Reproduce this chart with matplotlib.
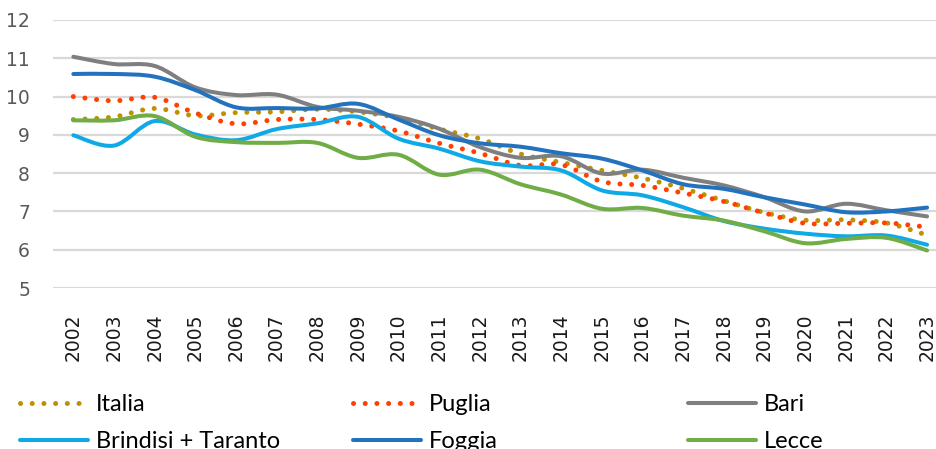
import matplotlib
matplotlib.use("Agg")
import matplotlib.pyplot as plt
from matplotlib.path import Path
from matplotlib.patches import PathPatch
from matplotlib.lines import Line2D

years = list(range(2002, 2024))

italia = [9.40, 9.47, 9.69, 9.50, 9.58, 9.60, 9.67, 9.60, 9.44, 9.15, 8.90,
          8.50, 8.28, 8.07, 7.87, 7.60, 7.28, 6.97, 6.77, 6.78, 6.70, 6.38]
puglia = [10.00, 9.89, 9.98, 9.57, 9.29, 9.40, 9.40, 9.28, 9.10, 8.78, 8.52,
          8.20, 8.22, 7.78, 7.68, 7.48, 7.26, 6.96, 6.69, 6.69, 6.70, 6.59]
bari = [11.04, 10.85, 10.80, 10.24, 10.04, 10.05, 9.73, 9.63, 9.47, 9.16, 8.68,
        8.40, 8.44, 7.99, 8.09, 7.88, 7.68, 7.37, 7.00, 7.20, 7.03, 6.87]
brindisi_taranto = [8.99, 8.72, 9.36, 9.01, 8.86, 9.15, 9.30, 9.47, 8.90, 8.64, 8.31,
                    8.17, 8.07, 7.55, 7.42, 7.11, 6.75, 6.55, 6.42, 6.35, 6.37, 6.13]
foggia = [10.59, 10.59, 10.52, 10.17, 9.72, 9.70, 9.69, 9.81, 9.40, 8.99, 8.78,
          8.69, 8.52, 8.38, 8.07, 7.71, 7.59, 7.37, 7.18, 6.98, 7.00, 7.10]
lecce = [9.38, 9.38, 9.49, 8.95, 8.81, 8.79, 8.79, 8.40, 8.48, 7.96, 8.09,
         7.71, 7.44, 7.07, 7.09, 6.89, 6.76, 6.48, 6.17, 6.28, 6.31, 5.98]

series = [
    ("Italia", italia, "#BF9000", "dot"),
    ("Puglia", puglia, "#FF4000", "dot"),
    ("Bari", bari, "#7F7F7F", "solid"),
    ("Brindisi + Taranto", brindisi_taranto, "#0FA9E6", "solid"),
    ("Foggia", foggia, "#2272BE", "solid"),
    ("Lecce", lecce, "#70AD47", "solid"),
]

DOTS = (0, (0.01, 2.33))


def smooth_path(xs, ys):
    # bezier segments like excel's "smoothed line"
    n = len(xs)
    verts = [(xs[0], ys[0])]
    codes = [Path.MOVETO]
    for i in range(n - 1):
        x0, y0 = xs[max(i - 1, 0)], ys[max(i - 1, 0)]
        x1, y1 = xs[i], ys[i]
        x2, y2 = xs[i + 1], ys[i + 1]
        x3, y3 = xs[min(i + 2, n - 1)], ys[min(i + 2, n - 1)]
        c1 = (x1 + (x2 - x0) / 6, y1 + (y2 - y0) / 6)
        c2 = (x2 - (x3 - x1) / 6, y2 - (y3 - y1) / 6)
        verts += [c1, c2, (x2, y2)]
        codes += [Path.CURVE4] * 3
    return Path(verts, codes)


W, H = 937, 449
fig = plt.figure(figsize=(W / 100, H / 100), dpi=100)
ax = fig.add_axes([53 / W, 161 / H, (W - 53) / W, 268 / H])

xpos = list(range(len(years)))
for name, vals, color, style in series:
    if style == "dot":
        patch = PathPatch(smooth_path(xpos, vals), fill=False, edgecolor=color,
                          linewidth=3.6, linestyle=DOTS, capstyle="round")
    else:
        patch = PathPatch(smooth_path(xpos, vals), fill=False, edgecolor=color,
                          linewidth=2.9, capstyle="round", joinstyle="round")
    ax.add_patch(patch)

ax.set_xlim(-0.5, (W - 73) / 40.67)
ax.set_ylim(5, 12)
ax.set_yticks(range(5, 13))
ax.set_xticks(xpos)
ax.set_xticklabels([str(y) for y in years], rotation=90, fontsize=13.5,
                   family="DejaVu Sans", color="#1a1a1a")
ax.tick_params(axis="x", length=0, pad=18.5)
ax.tick_params(axis="y", length=0, pad=16.5, labelsize=13.5, labelcolor="#595959")
for lab in ax.get_yticklabels():
    lab.set_family("DejaVu Sans")
ax.grid(axis="y", color="#D9D9D9", linewidth=1.6)
ax.set_axisbelow(True)
for s in ax.spines.values():
    s.set_visible(False)

# legend: three columns, two rows
cols = [(20, [0, 3]), (353, [1, 4]), (688, [2, 5])]
for x0, idx in cols:
    handles = []
    labels = []
    for i in idx:
        name, vals, color, style = series[i]
        if style == "dot":
            h = Line2D([], [], color=color, linewidth=3.6, linestyle=DOTS,
                       dash_capstyle="round")
        else:
            h = Line2D([], [], color=color, linewidth=2.9, solid_capstyle="round")
        handles.append(h)
        labels.append(name)
    fig.legend(handles, labels, loc="upper left",
               bbox_to_anchor=(x0 / W, (H - 394) / H), frameon=False,
               borderpad=0, borderaxespad=0, handlelength=2.9,
               handletextpad=0.32, labelspacing=0.68,
               prop={"family": "Lato", "size": 17})

fig.savefig("out.png", dpi=100)
